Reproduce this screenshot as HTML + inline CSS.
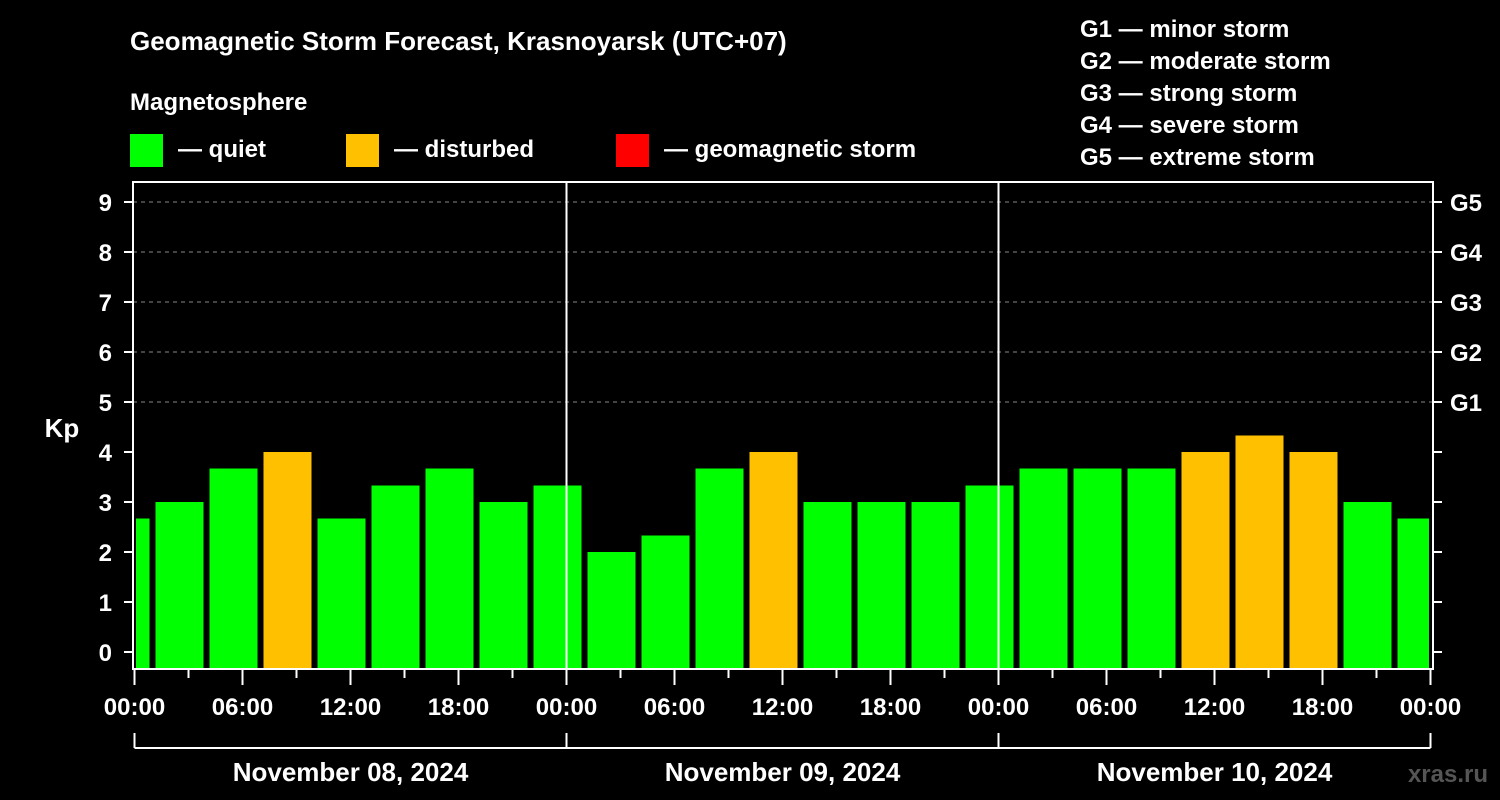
<!DOCTYPE html>
<html><head><meta charset="utf-8"><style>
body{margin:0;background:#000;width:1500px;height:800px;overflow:hidden}
svg{display:block;font-family:"Liberation Sans",sans-serif;font-weight:bold}
</style></head><body>
<svg id="c" width="1500" height="800">
<rect width="1500" height="800" fill="#000"/>
<text x="130" y="50" font-size="26" fill="#fff">Geomagnetic Storm Forecast, Krasnoyarsk (UTC+07)</text>
<text x="130" y="110" font-size="24" fill="#fff">Magnetosphere</text>
<g><rect x="130" y="134" width="33" height="33" fill="#00ff00"/><text x="178" y="157" font-size="24" fill="#fff">— quiet</text></g>
<g><rect x="346" y="134" width="33" height="33" fill="#ffc000"/><text x="394" y="157" font-size="24" fill="#fff">— disturbed</text></g>
<g><rect x="616" y="134" width="33" height="33" fill="#ff0000"/><text x="664" y="157" font-size="24" fill="#fff">— geomagnetic storm</text></g>
<g font-size="24" fill="#fff">
<text x="1080" y="37">G1 — minor storm</text><text x="1080" y="69">G2 — moderate storm</text><text x="1080" y="101">G3 — strong storm</text><text x="1080" y="133">G4 — severe storm</text><text x="1080" y="165">G5 — extreme storm</text></g>
<text x="62" y="437" font-size="26" fill="#fff" text-anchor="middle">Kp</text>
<text x="1488" y="782" font-size="24" fill="#555" text-anchor="end" font-weight="bold">xras.ru</text>
<g id="grid"></g><g id="bars"></g><g id="axes"></g>
</svg>
<script>
const values=[2.67,3,3.67,4,2.67,3.33,3.67,3,3.33,2,2.33,3.67,4,3,3,3,3.33,3.67,3.67,3.67,4,4.33,4,3,2.67];
const startHours=[-2,1,4,7,10,13,16,19,22,25,28,31,34,37,40,43,46,49,52,55,58,61,64,67,70];
const yTicks=[0,1,2,3,4,5,6,7,8,9];
const gLabels=["G1","G2","G3","G4","G5"];
const xTickLabels=["00:00","06:00","12:00","18:00","00:00","06:00","12:00","18:00","00:00","06:00","12:00","18:00","00:00"];
const dayLabels=["November 08, 2024","November 09, 2024","November 10, 2024"];
const NS="http://www.w3.org/2000/svg";
const X0=134.5,PX_H=18,Y0=652,PX_K=50,L=136,R=1429,TOP=182,BOT=669;
const xs=h=>X0+h*PX_H, ys=k=>Y0-k*PX_K;
function mk(p,tag,a){const e=document.createElementNS(NS,tag);for(const k in a)e.setAttribute(k,a[k]);p.appendChild(e);return e;}
const grid=document.getElementById('grid'),bars=document.getElementById('bars'),axes=document.getElementById('axes');
yTicks.forEach(k=>{if(k>=5){const l=mk(grid,'line',{x1:133,x2:1433,y1:ys(k),y2:ys(k),stroke:'#888','stroke-dasharray':'4,4','stroke-width':1});

}});
values.forEach((v,i)=>{let x1=xs(startHours[i])+3,x2=x1+48;x1=Math.max(x1,L);x2=Math.min(x2,R);
const c=v>=5?'#ff0000':(v>=4?'#ffc000':'#00ff00');
const r=mk(bars,'rect',{x:x1,y:ys(v),width:x2-x1,height:BOT-ys(v),fill:c});

});
// day separators
[1,2].forEach(d=>{const l=mk(axes,'line',{x1:xs(d*24),x2:xs(d*24),y1:TOP,y2:BOT,stroke:'#fff','stroke-width':2});

});
const f=mk(axes,'rect',{x:133,y:TOP,width:1300,height:BOT-TOP,fill:'none',stroke:'#fff','stroke-width':2});


yTicks.forEach(k=>{mk(axes,'line',{x1:124,x2:133,y1:ys(k),y2:ys(k),stroke:'#fff','stroke-width':2});
mk(axes,'line',{x1:1433,x2:1442,y1:ys(k),y2:ys(k),stroke:'#fff','stroke-width':2});
const t=mk(axes,'text',{x:112,y:ys(k)+9,'font-size':24,fill:'#fff','text-anchor':'end'});t.textContent=k;


if(k>=5){const g=mk(axes,'text',{x:1450,y:ys(k)+9,'font-size':24,fill:'#fff'});g.textContent=gLabels[k-5];

}});
for(let h=0;h<=72;h+=3){const major=h%6===0;mk(axes,'line',{x1:xs(h),x2:xs(h),y1:BOT,y2:BOT+(major?16:9),stroke:'#fff','stroke-width':2});}
xTickLabels.forEach((s,i)=>{const t=mk(axes,'text',{x:xs(i*6),y:715,'font-size':24,fill:'#fff','text-anchor':'middle'});t.textContent=s;

});
mk(axes,'line',{x1:xs(0),x2:xs(72),y1:748,y2:748,stroke:'#fff','stroke-width':2});
for(let d=0;d<=3;d++)mk(axes,'line',{x1:xs(d*24),x2:xs(d*24),y1:733,y2:748,stroke:'#fff','stroke-width':2});
dayLabels.forEach((s,i)=>{const t=mk(axes,'text',{x:xs(i*24+12),y:781,'font-size':26,fill:'#fff','text-anchor':'middle'});t.textContent=s;

});
</script>
</body></html>
